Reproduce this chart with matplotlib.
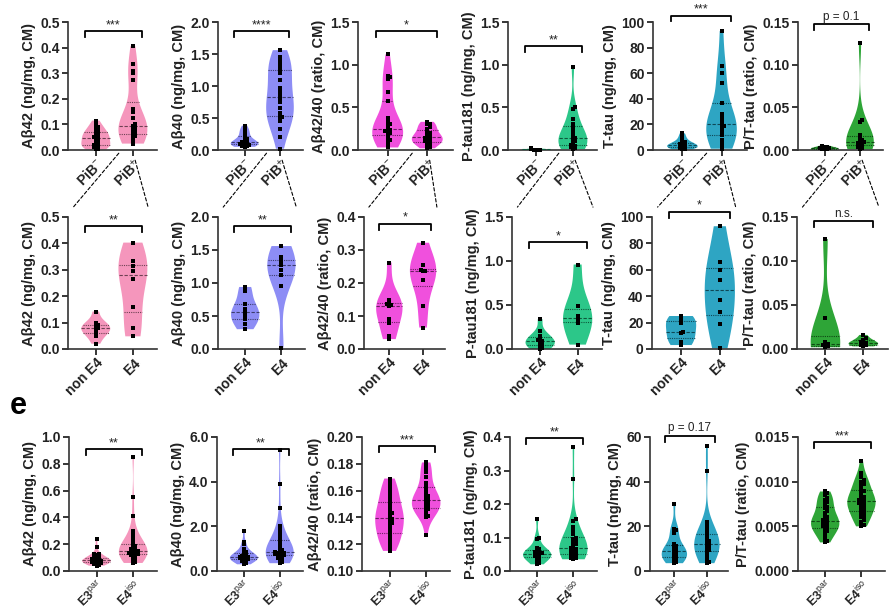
import numpy as np
import matplotlib
matplotlib.use("Agg")
import matplotlib.pyplot as plt
from matplotlib.patches import ConnectionPatch
from matplotlib.transforms import blended_transform_factory

plt.rcParams['font.family'] = ['Liberation Sans', 'DejaVu Sans']
plt.rcParams['mathtext.fontset'] = 'custom'
plt.rcParams['mathtext.rm'] = 'Liberation Sans'
plt.rcParams['mathtext.it'] = 'Liberation Sans:italic'
plt.rcParams['mathtext.bf'] = 'Liberation Sans:bold'

# ---------------- data ----------------
ylabels = ["Aβ42 (ng/mg, CM)", "Aβ40 (ng/mg, CM)", "Aβ42/40 (ratio, CM)",
           "P-tau181 (ng/mg, CM)", "T-tau (ng/mg, CM)", "P/T-tau (ratio, CM)"]
row_groups = [[r"PiB$^{-}$", r"PiB$^{+}$"],
              ["non E4", "E4"],
              [r"E3$^{\mathrm{par}}$", r"E4$^{\mathrm{iso}}$"]]
sig_top = ["***", "****", "*", "**", "***", "p = 0.1"]
sig_mid = ["**", "**", "*", "*", "*", "n.s."]
sig_bot = ["**", "**", "***", "**", "p = 0.17", "***"]

# top row: PiB- / PiB+
t_ab42_neg = [0.115, 0.1, 0.09, 0.085, 0.075, 0.07, 0.065, 0.06, 0.055, 0.05, 0.048, 0.045,
              0.04, 0.03, 0.025, 0.02, 0.018, 0.015, 0.012, 0.01, 0.005, 0.002]
t_ab42_pos = [0.405, 0.335, 0.31, 0.3, 0.275, 0.16, 0.15, 0.125, 0.1, 0.095, 0.09, 0.085,
              0.08, 0.075, 0.065, 0.06, 0.055, 0.05, 0.04, 0.025]
t_ab40_neg = [0.38, 0.33, 0.3, 0.27, 0.24, 0.2, 0.17, 0.15, 0.13, 0.12, 0.11, 0.1, 0.095,
              0.09, 0.085, 0.08, 0.07, 0.06, 0.05]
t_ab40_pos = [1.56, 1.45, 1.4, 1.35, 1.3, 1.26, 1.2, 1.1, 0.97, 0.9, 0.85, 0.82, 0.75, 0.65,
              0.58, 0.55, 0.52, 0.5, 0.45, 0.33, 0.2, 0.02]
t_ratio_neg = [1.12, 0.87, 0.85, 0.83, 0.68, 0.57, 0.38, 0.33, 0.3, 0.28, 0.25, 0.23, 0.22,
               0.21, 0.2, 0.18, 0.15, 0.12, 0.1, 0.07, 0.03]
t_ratio_pos = [0.33, 0.31, 0.3, 0.27, 0.25, 0.22, 0.2, 0.18, 0.16, 0.15, 0.14, 0.13, 0.12,
               0.1, 0.09, 0.08, 0.06, 0.04, 0.02]
t_ptau_neg = [0.02, 0.015, 0.012, 0.01, 0.008, 0.006, 0.005, 0.004, 0.003, 0.002]
t_ptau_pos = [0.97, 0.5, 0.48, 0.36, 0.3, 0.27, 0.22, 0.18, 0.15, 0.14, 0.12, 0.1, 0.08,
              0.06, 0.05, 0.04, 0.03, 0.02, 0.01]
t_ttau_neg = [13, 10, 8, 6, 5, 4.5, 4, 3.5, 3, 2.5, 2, 1.5, 1, 0.5]
t_ttau_pos = [93, 66, 60, 52, 37, 28, 25, 22, 20, 19, 18, 15, 12, 8, 5, 3, 1]
t_pt_neg = [0.005, 0.004, 0.003, 0.0025, 0.002, 0.0015, 0.001, 0.0008]
t_pt_pos = [0.125, 0.035, 0.033, 0.018, 0.015, 0.012, 0.01, 0.009, 0.008, 0.0075, 0.007,
            0.005, 0.003, 0.002, 0.001]

# middle row: non E4 / E4
m_ab42_non = [0.142, 0.1, 0.09, 0.083, 0.078, 0.072, 0.062, 0.048, 0.02]
m_ab42_e4 = [0.403, 0.334, 0.315, 0.296, 0.267, 0.16, 0.079, 0.048]
m_ab40_non = [0.94, 0.88, 0.68, 0.6, 0.56, 0.52, 0.45, 0.38, 0.3]
m_ab40_e4 = [1.56, 1.4, 1.35, 1.3, 1.27, 1.2, 1.12, 0.95, 0.02]
m_ratio_non = [0.262, 0.15, 0.14, 0.135, 0.133, 0.13, 0.09, 0.08, 0.04, 0.03]
m_ratio_e4 = [0.322, 0.255, 0.24, 0.237, 0.235, 0.21, 0.13, 0.065]
m_ptau_non = [0.34, 0.2, 0.15, 0.12, 0.1, 0.09, 0.08, 0.05, 0.03, 0.01, 0.0]
m_ptau_e4 = [0.96, 0.49, 0.37, 0.34, 0.3, 0.05]
m_ttau_non = [25, 22, 20, 13, 12, 5, 3]
m_ttau_e4 = [93, 66, 60, 52, 37, 28, 19, 0.5]
m_pt_non = [0.125, 0.035, 0.008, 0.006, 0.005, 0.004, 0.003, 0.002]
m_pt_e4 = [0.016, 0.012, 0.01, 0.008, 0.007, 0.006, 0.005, 0.004, 0.003]

# bottom row: E3par / E4iso
b_ab42_e3 = [0.24, 0.18, 0.13, 0.125, 0.12, 0.11, 0.1, 0.095, 0.09, 0.088, 0.085, 0.083,
             0.08, 0.078, 0.075, 0.072, 0.07, 0.068, 0.065, 0.06, 0.058, 0.055, 0.05, 0.045, 0.04]
b_ab42_e4 = [0.85, 0.55, 0.41, 0.3, 0.28, 0.26, 0.24, 0.22, 0.2, 0.19, 0.18, 0.17, 0.165,
             0.16, 0.155, 0.15, 0.148, 0.145, 0.14, 0.138, 0.135, 0.13, 0.128, 0.125, 0.12,
             0.115, 0.11, 0.1, 0.09, 0.08, 0.07, 0.06]
b_ab40_e3 = [1.8, 1.3, 1.2, 1.0, 0.9, 0.85, 0.8, 0.75, 0.7, 0.68, 0.65, 0.63, 0.62, 0.6,
             0.58, 0.56, 0.55, 0.52, 0.5, 0.47, 0.45, 0.4, 0.35, 0.3]
b_ab40_e4 = [5.4, 3.9, 2.8, 2.0, 1.85, 1.7, 1.6, 1.5, 1.4, 1.3, 1.2, 1.1, 1.0, 0.95, 0.9,
             0.85, 0.85, 0.82, 0.8, 0.8, 0.78, 0.75, 0.75, 0.72, 0.7, 0.7, 0.65, 0.6, 0.6,
             0.55, 0.5, 0.4, 0.35]
b_ratio_e3 = [0.169, 0.166, 0.163, 0.16, 0.158, 0.155, 0.152, 0.15, 0.148, 0.145, 0.143,
              0.142, 0.14, 0.139, 0.138, 0.136, 0.135, 0.133, 0.13, 0.128, 0.126, 0.124,
              0.122, 0.12, 0.118, 0.115]
b_ratio_e4 = [0.181, 0.179, 0.177, 0.174, 0.17, 0.166, 0.163, 0.16, 0.158, 0.156, 0.155,
              0.154, 0.153, 0.152, 0.151, 0.15, 0.149, 0.148, 0.147, 0.146, 0.145, 0.143,
              0.141, 0.14, 0.127]
b_ptau_e3 = [0.155, 0.1, 0.097, 0.07, 0.065, 0.06, 0.057, 0.055, 0.053, 0.052, 0.05, 0.048,
             0.046, 0.044, 0.042, 0.04, 0.035, 0.03, 0.025, 0.02]
b_ptau_e4 = [0.37, 0.275, 0.155, 0.15, 0.13, 0.12, 0.11, 0.1, 0.095, 0.09, 0.085, 0.08,
             0.075, 0.07, 0.068, 0.065, 0.062, 0.06, 0.058, 0.055, 0.052, 0.05, 0.048,
             0.045, 0.042, 0.04, 0.038, 0.035]
b_ttau_e3 = [30, 19, 18.5, 18, 17, 12, 11, 10.5, 10, 9.5, 9, 8.5, 8, 7.5, 7, 6.5, 6, 5.5,
             5, 4.5, 4, 3.5]
b_ttau_e4 = [56, 45, 22, 20, 19, 18, 17, 16, 15, 14, 13.5, 13, 12.5, 12, 11.5, 11, 10.5,
             10, 9.5, 9, 8, 7, 6, 5, 4, 3.5]
b_pt_e3 = [0.0089, 0.0087, 0.0085, 0.0082, 0.008, 0.0077, 0.0075, 0.0072, 0.007, 0.0067,
           0.0065, 0.0062, 0.006, 0.0058, 0.0057, 0.0056, 0.0055, 0.0054, 0.0053, 0.0052,
           0.005, 0.0049, 0.0048, 0.0046, 0.0045, 0.0043, 0.004, 0.0037, 0.0034, 0.0032]
b_pt_e4 = [0.0123, 0.011, 0.0105, 0.0102, 0.01, 0.0097, 0.0095, 0.0092, 0.009, 0.0088,
           0.0085, 0.0083, 0.0081, 0.008, 0.0079, 0.0078, 0.0077, 0.0076, 0.0075, 0.0074,
           0.0072, 0.007, 0.0068, 0.0066, 0.0064, 0.0062, 0.006, 0.0057, 0.0055, 0.0052, 0.005]

rows = [
    [(t_ab42_neg, t_ab42_pos), (t_ab40_neg, t_ab40_pos), (t_ratio_neg, t_ratio_pos),
     (t_ptau_neg, t_ptau_pos), (t_ttau_neg, t_ttau_pos), (t_pt_neg, t_pt_pos)],
    [(m_ab42_non, m_ab42_e4), (m_ab40_non, m_ab40_e4), (m_ratio_non, m_ratio_e4),
     (m_ptau_non, m_ptau_e4), (m_ttau_non, m_ttau_e4), (m_pt_non, m_pt_e4)],
    [(b_ab42_e3, b_ab42_e4), (b_ab40_e3, b_ab40_e4), (b_ratio_e3, b_ratio_e4),
     (b_ptau_e3, b_ptau_e4), (b_ttau_e3, b_ttau_e4), (b_pt_e3, b_pt_e4)],
]

# ---------------- styling / layout ----------------
colors = ["#F590B9", "#8787F5", "#F046DC", "#20C483", "#22A0C0", "#22A02C"]

yaxes = [
    [(0, 0.5, 0.1, "%.1f"), (0, 2.0, 0.5, "%.1f"), (0, 1.5, 0.5, "%.1f"),
     (0, 1.5, 0.5, "%.1f"), (0, 100, 20, "%d"), (0, 0.15, 0.05, "%.2f")],
    [(0, 0.5, 0.1, "%.1f"), (0, 2.0, 0.5, "%.1f"), (0, 0.4, 0.1, "%.1f"),
     (0, 1.5, 0.5, "%.1f"), (0, 100, 20, "%d"), (0, 0.15, 0.05, "%.2f")],
    [(0, 1.0, 0.2, "%.1f"), (0, 6.0, 2.0, "%.1f"), (0.10, 0.20, 0.02, "%.2f"),
     (0, 0.4, 0.1, "%.1f"), (0, 60, 20, "%d"), (0, 0.015, 0.005, "%.3f")],
]
bracket_y = [
    [0.93, 0.93, 0.93, 0.81, 1.05, 0.985],
    [0.93, 0.93, 0.95, 0.81, 1.04, 0.97],
    [0.91, 0.91, 0.93, 0.99, 1.01, 0.96],
]
xtick_size = [10, 10, 9]

W, H = 894, 609
row_tb = [(22, 150), (217, 349), (437, 571)]
row_lr = [
    [(68, 157), (218, 303), (358, 453), (508, 597), (653, 747), (798, 883)],
    [(68, 157), (218, 305), (364, 445), (512, 602), (652, 745), (797, 888)],
    [(69, 157), (217, 303), (362, 450), (510, 597), (650, 728), (798, 885)],
]

fig = plt.figure(figsize=(W / 100, H / 100), dpi=100)


def darker(c, f=0.45):
    rgb = np.array(matplotlib.colors.to_rgb(c))
    return tuple(rgb * f)


def swarm_x(vals, pos, yspan):
    vals = np.asarray(vals, float)
    xs = np.full(len(vals), float(pos))
    placed = []
    dy = yspan * 0.014
    step = 0.06
    for i in np.argsort(vals):
        x = pos
        for k in [0, 1, -1, 2, -2]:
            x = pos + k * step
            if all(abs(vals[i] - py) > dy or abs(x - px) > step * 0.9 for px, py in placed):
                break
        xs[i] = x
        placed.append((x, vals[i]))
    return xs


def draw_violin(ax, vals, pos, color, yspan):
    vals = np.asarray(vals, float)
    parts = ax.violinplot([vals], positions=[pos], widths=0.78, showextrema=False)
    body = parts['bodies'][0]
    body.set_facecolor(color)
    body.set_edgecolor('none')
    body.set_alpha(0.95)
    verts = body.get_paths()[0].vertices
    right = verts[verts[:, 0] >= pos]
    order = np.argsort(right[:, 1])
    ys, hw = right[order, 1], right[order, 0] - pos
    dk = darker(color)
    for q, ls in ((25, (0, (1, 1))), (50, (0, (3, 1.5))), (75, (0, (1, 1)))):
        yq = np.percentile(vals, q)
        w = np.interp(yq, ys, hw)
        ax.plot([pos - w, pos + w], [yq, yq], color=dk, ls=ls, lw=0.8, zorder=3)
    ax.plot(swarm_x(vals, pos, yspan), vals, 's', color='black', ms=2.6, mew=0,
            zorder=4, clip_on=False)


def bracket(ax, yfrac, label):
    tr = blended_transform_factory(ax.transData, ax.transAxes)
    x0, x1 = 0.7, 2.25
    ax.plot([x0, x0, x1, x1], [yfrac - 0.045, yfrac, yfrac, yfrac - 0.045],
            transform=tr, color='black', lw=1.3, clip_on=False)
    is_star = '*' in label
    ax.text((x0 + x1) / 2, yfrac + (0.0 if is_star else 0.01), label, transform=tr,
            ha='center', va='bottom', fontsize=9 if is_star else 8.5, color='#222222')


axes = []
for r in range(3):
    t, b = row_tb[r]
    row_axes = []
    for c in range(6):
        l, rr = row_lr[r][c]
        ax = fig.add_axes([l / W, 1 - b / H, (rr - l) / W, (b - t) / H])
        y0, y1, ystep, fmt = yaxes[r][c]
        neg, pos = rows[r][c]
        for p, vals in ((1, neg), (2, pos)):
            draw_violin(ax, vals, p, colors[c], y1 - y0)
        ax.set_xlim(0.25, 2.65)
        ax.set_ylim(y0, y1)
        ticks = np.arange(y0, y1 + ystep / 2, ystep)
        ax.set_yticks(ticks)
        ax.set_yticklabels([fmt % v for v in ticks], fontsize=10, fontweight='bold',
                           color='#222222')
        ax.set_xticks([1, 2])
        ax.set_xticklabels(row_groups[r], rotation=45, ha='right', rotation_mode='anchor',
                           fontsize=xtick_size[r], fontweight='bold', color='#222222')
        ax.tick_params(axis='both', direction='out', length=4, width=1.1, pad=2)
        ax.tick_params(axis='x', pad=1)
        for s in ('top', 'right'):
            ax.spines[s].set_visible(False)
        for s in ('left', 'bottom'):
            ax.spines[s].set_linewidth(1.2)
            ax.spines[s].set_color('#333333')
        ax.set_ylabel(ylabels[c], fontsize=10.5, fontweight='bold', labelpad=3,
                      color='#222222')
        sig = [sig_top, sig_mid, sig_bot][r][c]
        bracket(ax, bracket_y[r][c], sig)
        row_axes.append(ax)
    axes.append(row_axes)

# dashed zoom connectors between the PiB+ group and the E4 breakdown
for c in range(6):
    top_ax, mid_ax = axes[0][c], axes[1][c]
    tr = blended_transform_factory(top_ax.transData, top_ax.transAxes)
    for (xa, ya), (xb, yb) in (((1.62, -0.025), (0.06, 1.075)),
                               ((2.06, -0.08), (0.9, 1.075))):
        con = ConnectionPatch(xyA=(xa, ya), coordsA=tr, xyB=(xb, yb),
                              coordsB=mid_ax.transAxes, color='black', lw=0.8,
                              linestyle=(0, (3, 2)))
        fig.add_artist(con)

fig.text(10 / W, 1 - 414 / H, "e", fontsize=22, fontweight='bold')

fig.savefig("out.png", dpi=100)
